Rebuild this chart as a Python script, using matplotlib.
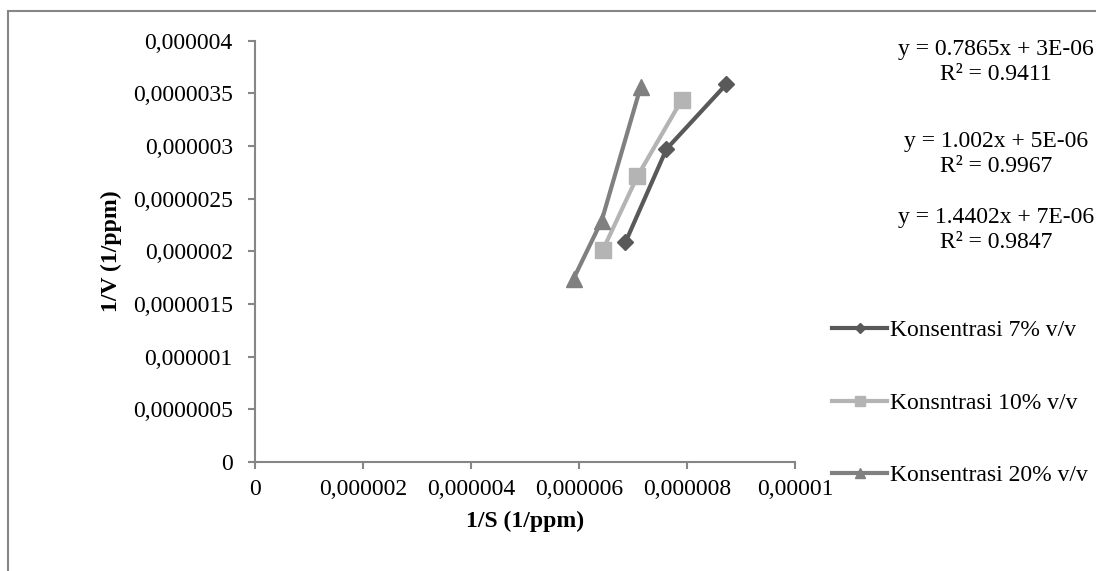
import matplotlib.pyplot as plt
from matplotlib.patches import Rectangle
from matplotlib.ticker import FuncFormatter, MultipleLocator

plt.rcParams['font.family'] = ['Liberation Serif', 'DejaVu Serif']

# Data
x_7 = [6.86e-6, 7.62e-6, 8.73e-6]
y_7 = [2.085e-6, 2.97e-6, 3.586e-6]
x_10 = [6.44e-6, 7.08e-6, 7.90e-6]
y_10 = [2.01e-6, 2.71e-6, 3.434e-6]
x_20 = [5.90e-6, 6.42e-6, 7.14e-6]
y_20 = [1.74e-6, 2.29e-6, 3.557e-6]

labels = ["Konsentrasi 7% v/v", "Konsntrasi 10% v/v", "Konsentrasi 20% v/v"]
equations = [
    "y = 0.7865x + 3E-06\nR² = 0.9411",
    "y = 1.002x + 5E-06\nR² = 0.9967",
    "y = 1.4402x + 7E-06\nR² = 0.9847",
]

FS = 17


def excel_fmt(v, pos):
    s = f"{v:.7f}".rstrip('0').rstrip('.')
    return s.replace('.', ',')


fig = plt.figure(figsize=(10.96, 5.71), dpi=100)
fig.patches.append(Rectangle((8 / 1096, -0.1), 1.2, 1 - 10.5 / 571 + 0.1,
                             transform=fig.transFigure, fill=False,
                             edgecolor='#868686', lw=1.5))
ax = fig.add_axes([255 / 1096, 1 - 462 / 571, (795 - 255) / 1096, (462 - 40.5) / 571])

ax.plot(x_7, y_7, color='#595959', lw=3, marker='D', ms=8, label=labels[0])
ax.plot(x_10, y_10, color='#b4b4b4', lw=3, marker='s', ms=11, label=labels[1])
ax.plot(x_20, y_20, color='#808080', lw=3, marker='^', ms=12, label=labels[2])

ax.set_xlim(0, 0.00001)
ax.set_ylim(0, 0.000004)
ax.xaxis.set_major_locator(MultipleLocator(0.000002))
ax.yaxis.set_major_locator(MultipleLocator(0.0000005))
ax.xaxis.set_major_formatter(FuncFormatter(excel_fmt))
ax.yaxis.set_major_formatter(FuncFormatter(excel_fmt))

for s in ['top', 'right']:
    ax.spines[s].set_visible(False)
for s in ['left', 'bottom']:
    ax.spines[s].set_color('#868686')
    ax.spines[s].set_linewidth(1.5)
ax.tick_params(colors='#868686', width=1.5, length=5, labelsize=FS, labelcolor='black')
ax.tick_params(axis='x', pad=7)
ax.tick_params(axis='y', pad=11)

ax.set_xlabel("1/S (1/ppm)", fontsize=FS, fontweight='bold', labelpad=8)
ax.set_ylabel("1/V (1/ppm)", fontsize=FS, fontweight='bold', labelpad=8)

eq_y = [62, 154, 230]
for eq, yy in zip(equations, eq_y):
    fig.text(996 / 1096, 1 - yy / 571, eq, ha='center', va='center',
             multialignment='center', fontsize=FS, linespacing=1.25)

fig.legend(loc='center left', bbox_to_anchor=(832 / 1096, 1 - 403 / 571),
           frameon=False, fontsize=FS, handlelength=2.35, handletextpad=0.1,
           labelspacing=2.15, borderpad=0, borderaxespad=0, markerscale=0.65)

fig.savefig("out.png", dpi=100)
